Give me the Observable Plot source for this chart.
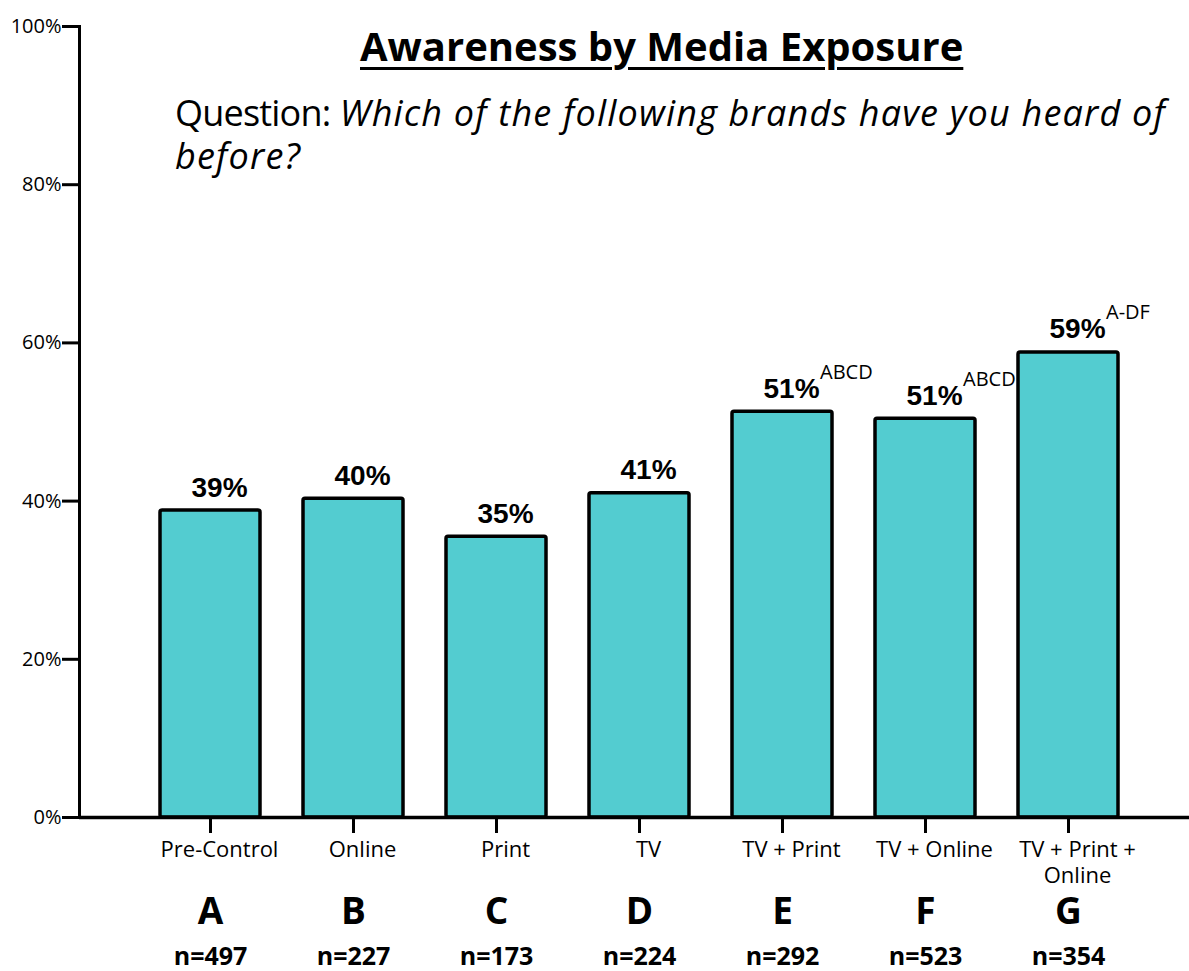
<!DOCTYPE html>
<html><head><meta charset="utf-8">
<script src="https://cdn.jsdelivr.net/npm/d3@7"></script>
<script src="https://cdn.jsdelivr.net/npm/@observablehq/plot@0.6"></script>
<style>
body{margin:0;background:#fff;}
#wrap{position:relative;width:1189px;height:971px;font-family:"Open Sans",sans-serif;color:#000;}
#title{position:absolute;left:360px;top:26px;font-size:40px;line-height:40px;font-weight:bold;white-space:nowrap;text-decoration:underline;text-decoration-thickness:3px;text-underline-offset:6px;}
.sub{position:absolute;left:175px;font-size:36px;line-height:36px;height:36px;white-space:nowrap;}
#sub1{top:95px;}
#sub2{top:138px;}
.sub .q{letter-spacing:-0.8px;}
.sub i{font-style:italic;letter-spacing:1.2px;}
</style></head>
<body>
<div id="wrap">
  <div id="chart"></div>
  <div id="title">Awareness by Media Exposure</div>
  <div class="sub" id="sub1"><span class="q">Question:</span> <i>Which of the following brands have you heard of</i></div>
  <div class="sub" id="sub2"><i>before?</i></div>
</div>
<script>
const categories = ["Pre-Control","Online","Print","TV","TV + Print","TV + Online","TV + Print + Online"];
const tickLabels = ["Pre-Control","Online","Print","TV","TV + Print","TV + Online","TV + Print +\nOnline"];
const letters = ["A","B","C","D","E","F","G"];
const sampleSizes = [497,227,173,224,292,523,354];
const awareness = [38.8,40.3,35.5,41.0,51.3,50.4,58.8];
const valueLabels = ["39%","40%","35%","41%","51%","51%","59%"];
const sigLetters = ["","","","","ABCD","ABCD","A-DF"];
const yTicks = [0,20,40,60,80,100];

const data = categories.map((c,i)=>({category:c, value:awareness[i], label:valueLabels[i], sig:sigLetters[i]}));
const tickLabelOf = new Map(categories.map((c,i)=>[c,tickLabels[i]]));
const letterOf = new Map(categories.map((c,i)=>[c,letters[i]]));
const nOf = new Map(categories.map((c,i)=>[c,"n="+sampleSizes[i]]));

const chart = Plot.plot({
  width:1189, height:971, marginLeft:79, marginRight:0, marginTop:26, marginBottom:154,
  style:{fontFamily:"Open Sans", background:"white", overflow:"visible", color:"black"},
  x:{domain:categories, paddingInner:0.298, paddingOuter:0.51, align:0.534, label:null},
  y:{domain:[0,100], label:null},
  marks:[
    Plot.barY(data,{x:"category", y:"value", fill:"#53CCD0", stroke:"black", strokeWidth:3.5, rx:2}),
    Plot.ruleY([0],{strokeWidth:3.5, stroke:"black"}),
    Plot.frame({anchor:"left", strokeWidth:3, stroke:"black"}),
    Plot.axisY({ticks:yTicks, tickFormat:d=>d+"%", tickSize:17, tickPadding:1, strokeWidth:3, fontSize:20, label:null}),
    Plot.axisX({tickSize:16, strokeWidth:3, fill:"none", tickFormat:()=>"", label:null}),
    Plot.axisX({tickSize:0, tickPadding:21, dx:9, fontSize:22, lineHeight:1.18, tickFormat:d=>tickLabelOf.get(d), label:null}),
    Plot.axisX({tickSize:0, tickPadding:80, fontSize:37, fontWeight:"bold", tickFormat:d=>letterOf.get(d), label:null}),
    Plot.axisX({tickSize:0, tickPadding:130, fontSize:25, fontWeight:"bold", tickFormat:d=>nOf.get(d), label:null}),
    Plot.text(data,{x:"category", y:"value", text:"label", dx:9, dy:-14, lineAnchor:"bottom", fontFamily:"Liberation Sans, Arial, sans-serif", fontWeight:"bold", fontSize:28, fill:"black"}),
    Plot.text(data,{x:"category", y:"value", text:"sig", dx:37.5, dy:-33, lineAnchor:"bottom", textAnchor:"start", fontSize:20, fill:"black"})
  ]
});
document.getElementById("chart").appendChild(chart);
</script>
</body></html>
